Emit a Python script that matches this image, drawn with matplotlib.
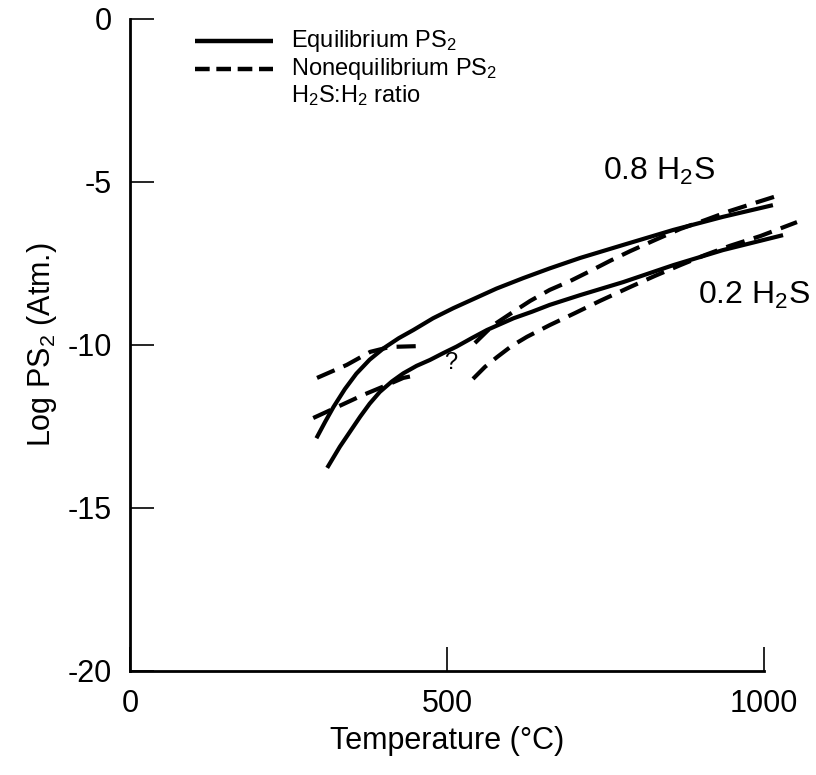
"""
Log PS2 frente a temperatura: curvas de equilibrio (continuas) y de
no equilibrio (discontinuas) para relaciones H2S:H2 de 0.8 y 0.2.
"""

import matplotlib.pyplot as plt

# ---------------------------------------------------------------------------
# Datos
# ---------------------------------------------------------------------------

# Equilibrio, 0.8 H2S
t_eq_08 = [294, 308, 321, 339, 357, 378, 400, 424, 447, 478, 510, 544, 578,
           620, 662, 710, 778, 857, 935, 1014]
p_eq_08 = [-12.86, -12.35, -11.90, -11.35, -10.88, -10.45, -10.10, -9.79,
           -9.54, -9.18, -8.87, -8.57, -8.27, -7.95, -7.65, -7.33, -6.93,
           -6.47, -6.07, -5.71]

# Equilibrio, 0.2 H2S
t_eq_02 = [311, 331, 347, 363, 378, 394, 413, 431, 452, 473, 494, 515, 539,
           563, 584, 605, 634, 662, 710, 778, 857, 935, 1030]
p_eq_02 = [-13.77, -13.12, -12.66, -12.20, -11.80, -11.44, -11.12, -10.87,
           -10.64, -10.46, -10.25, -10.05, -9.79, -9.54, -9.36, -9.18, -8.98,
           -8.77, -8.47, -8.07, -7.55, -7.09, -6.63]

# No equilibrio, 0.8 H2S (tramo de alta T)
t_neq_08 = [544, 573, 604, 631, 662, 694, 726, 757, 789, 828, 868, 907, 946,
            986, 1025]
p_neq_08 = [-9.94, -9.39, -8.99, -8.65, -8.31, -8.04, -7.73, -7.42, -7.12,
            -6.78, -6.44, -6.17, -5.89, -5.64, -5.40]

# No equilibrio, 0.2 H2S (tramo de alta T)
t_neq_02 = [541, 560, 579, 602, 626, 662, 702, 741, 789, 828, 868, 907, 946,
            994, 1052]
p_neq_02 = [-11.04, -10.67, -10.37, -10.03, -9.75, -9.39, -9.02, -8.65,
            -8.22, -7.88, -7.55, -7.24, -6.96, -6.66, -6.23]

# No equilibrio, tramos de baja T
t_neq_08_low = [295, 342, 379, 410, 462]
p_neq_08_low = [-11.01, -10.61, -10.21, -10.06, -10.03]

t_neq_02_low = [289, 327, 368, 405, 431, 453]
p_neq_02_low = [-12.24, -11.90, -11.53, -11.23, -11.01, -10.92]

x_ticks = [0, 500, 1000]
y_ticks = [0, -5, -10, -15, -20]

FONT = "Liberation Sans"


# ---------------------------------------------------------------------------
# Plot
# ---------------------------------------------------------------------------


def plot_chart(out_path: str = "out.png") -> None:
    plt.rcParams["font.family"] = FONT
    plt.rcParams["mathtext.fontset"] = "custom"
    plt.rcParams["mathtext.rm"] = FONT
    plt.rcParams["mathtext.it"] = FONT
    plt.rcParams["mathtext.default"] = "regular"
    plt.rcParams["axes.unicode_minus"] = False

    fig = plt.figure(figsize=(8.16, 7.75), dpi=100)
    ax = fig.add_axes([0.1593, 0.1342, 0.777, 0.8413])

    lw = 3.0
    dash = (4.6, 2.3)

    ax.plot(t_eq_08, p_eq_08, color="black", lw=lw, clip_on=False,
            solid_capstyle="butt")
    ax.plot(t_eq_02, p_eq_02, color="black", lw=lw, clip_on=False,
            solid_capstyle="butt")
    for t, p in ((t_neq_08, p_neq_08), (t_neq_02, p_neq_02),
                 (t_neq_08_low, p_neq_08_low), (t_neq_02_low, p_neq_02_low)):
        ax.plot(t, p, color="black", lw=lw, dashes=dash, clip_on=False,
                dash_capstyle="butt")

    ax.text(505, -10.55, "?", fontsize=17, ha="center", va="center")
    ax.text(746, -4.69, "0.8 H$_2$S", fontsize=23, ha="left", va="center")
    ax.text(896, -8.47, "0.2 H$_2$S", fontsize=23, ha="left", va="center")

    # Leyenda dibujada a mano (la tercera línea no tiene trazo)
    ax.plot([0.1025, 0.2256], [0.9662, 0.9662], transform=ax.transAxes,
            color="black", lw=3.2, clip_on=False, solid_capstyle="butt")
    ax.plot([0.1025, 0.2256], [0.9233, 0.9233], transform=ax.transAxes,
            color="black", lw=3.2, dashes=(3.3, 1.5), clip_on=False,
            dash_capstyle="butt")
    ax.text(0.2540, 0.9662, "Equilibrium PS$_2$", transform=ax.transAxes,
            fontsize=17, va="center")
    ax.text(0.2540, 0.9233, "Nonequilibrium PS$_2$", transform=ax.transAxes,
            fontsize=17, va="center")
    ax.text(0.2540, 0.8820, "H$_2$S:H$_2$ ratio", transform=ax.transAxes,
            fontsize=17, va="center")

    ax.set_xlim(0, 1000)
    ax.set_ylim(-20, 0)
    ax.set_xticks(x_ticks)
    ax.set_yticks(y_ticks)
    ax.spines["top"].set_visible(False)
    ax.spines["right"].set_visible(False)
    ax.spines["left"].set_linewidth(2)
    ax.spines["bottom"].set_linewidth(2)
    ax.tick_params(direction="in", length=17, width=1.2, labelsize=22)
    ax.tick_params(axis="x", pad=13)
    ax.tick_params(axis="y", pad=13)

    ax.set_xlabel("Temperature (°C)", fontsize=22, labelpad=5)
    ax.set_ylabel("Log PS$_2$ (Atm.)", fontsize=22, labelpad=6)

    fig.savefig(out_path, dpi=100)


if __name__ == "__main__":
    plot_chart()
